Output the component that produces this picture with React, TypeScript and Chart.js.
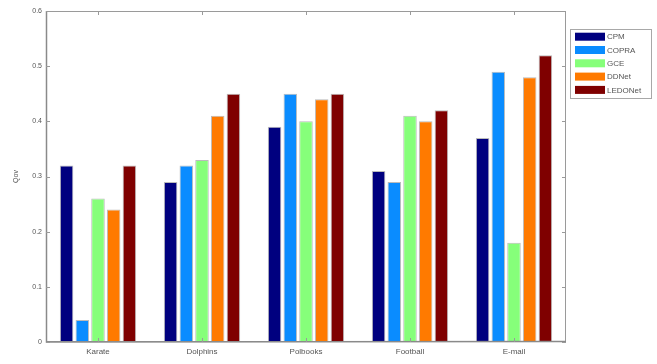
import React, { useEffect, useRef } from "react";
import { Chart, registerables } from "chart.js";

Chart.register(...registerables);

const categories = ["Karate", "Dolphins", "Polbooks", "Football", "E-mail"];
const seriesNames = ["CPM", "COPRA", "GCE", "DDNet", "LEDONet"];
const seriesColors = ["#00007f", "#0a8cff", "#86ff7a", "#ff7a00", "#7f0000"];
const cpm = [0.32, 0.29, 0.39, 0.31, 0.37];
const copra = [0.04, 0.32, 0.45, 0.29, 0.49];
const gce = [0.26, 0.33, 0.4, 0.41, 0.18];
const ddnet = [0.24, 0.41, 0.44, 0.4, 0.48];
const ledonet = [0.32, 0.45, 0.45, 0.42, 0.52];
const yTicks = [0, 0.1, 0.2, 0.3, 0.4, 0.5, 0.6];

const FONT = "'Liberation Sans', Arial, sans-serif";

// Box around the plot with inward ticks, plus a boxed legend at the right.
const framePlugin = {
  id: "frame",
  afterDatasetsDraw(chart: any) {
    const { ctx, chartArea: a, scales } = chart;
    const x = scales.x;
    const y = scales.y;
    ctx.save();
    ctx.strokeStyle = "#9a9a9a";
    ctx.lineWidth = 1;
    ctx.beginPath();
    ctx.rect(a.left + 0.5, a.top + 0.5, a.right - a.left - 1, a.bottom - a.top - 1);
    ctx.stroke();
    ctx.strokeStyle = "#8a8a8a";
    ctx.lineWidth = 1.5;
    ctx.beginPath();
    ctx.moveTo(a.left + 0.5, a.top);
    ctx.lineTo(a.left + 0.5, a.bottom);
    ctx.lineTo(a.right, a.bottom - 0.5);
    ctx.stroke();
    ctx.lineWidth = 1;
    ctx.strokeStyle = "#9a9a9a";
    ctx.beginPath();
    yTicks.forEach((v) => {
      const py = Math.round(y.getPixelForValue(v)) + 0.5;
      ctx.moveTo(a.left, py);
      ctx.lineTo(a.left + 4, py);
      ctx.moveTo(a.right, py);
      ctx.lineTo(a.right - 4, py);
    });
    categories.forEach((_, i) => {
      const px = Math.round(x.getPixelForValue(i)) + 0.5;
      ctx.moveTo(px, a.bottom);
      ctx.lineTo(px, a.bottom - 4);
      ctx.moveTo(px, a.top);
      ctx.lineTo(px, a.top + 4);
    });
    ctx.stroke();

    // legend
    const lx = 570;
    const ly = 29;
    const lw = 81;
    const lh = 69;
    ctx.fillStyle = "#ffffff";
    ctx.fillRect(lx, ly, lw, lh);
    ctx.strokeStyle = "#a8a8a8";
    ctx.strokeRect(lx + 0.5, ly + 0.5, lw, lh);
    ctx.font = `8px ${FONT}`;
    ctx.textBaseline = "middle";
    ctx.textAlign = "left";
    seriesNames.forEach((name, i) => {
      const cy = 36.7 + i * 13.3;
      ctx.fillStyle = seriesColors[i];
      ctx.fillRect(575, cy - 4, 30, 8);
      ctx.fillStyle = "#555555";
      ctx.fillText(name, 607, cy + 0.5);
    });
    ctx.restore();
  },
};

export default function App() {
  const canvasRef = useRef<HTMLCanvasElement | null>(null);

  useEffect(() => {
    if (!canvasRef.current) return;
    const values = [cpm, copra, gce, ddnet, ledonet];
    const chart = new Chart(canvasRef.current, {
      type: "bar",
      data: {
        labels: categories,
        datasets: seriesNames.map((name, i) => ({
          label: name,
          data: values[i],
          backgroundColor: seriesColors[i],
          borderColor: "rgba(60,60,60,0.35)",
          borderWidth: 1,
          categoryPercentage: 0.755,
          barPercentage: 0.86,
        })),
      },
      options: {
        animation: false,
        responsive: false,
        maintainAspectRatio: false,
        layout: { padding: { left: 0, top: 11, right: 91, bottom: 0 } },
        plugins: {
          legend: { display: false },
          tooltip: { enabled: false },
        },
        scales: {
          x: {
            grid: { display: false, drawTicks: false },
            border: { display: false },
            ticks: {
              color: "#555555",
              font: { family: FONT, size: 8 },
              padding: 5,
              maxRotation: 0,
            },
            afterFit: (s: any) => {
              s.height = 22;
            },
          },
          y: {
            min: 0,
            max: 0.6,
            grid: { display: false, drawTicks: false },
            border: { display: false },
            afterBuildTicks: (s: any) => {
              s.ticks = yTicks.map((v) => ({ value: v }));
            },
            ticks: {
              color: "#555555",
              font: { family: FONT, size: 7 },
              padding: 4,
              callback: (v: any) => String(Math.round(Number(v) * 10) / 10),
            },
            title: {
              display: true,
              text: "Qov",
              color: "#555555",
              font: { family: FONT, size: 7 },
              padding: { top: 12, bottom: 0 },
            },
            afterFit: (s: any) => {
              s.width = 46;
            },
          },
        },
      },
      plugins: [framePlugin],
    });
    return () => chart.destroy();
  }, []);

  return (
    <div style={{ position: "fixed", left: 0, top: 0, width: 657, height: 364, background: "#fff" }}>
      <canvas ref={canvasRef} width={657} height={364} />
    </div>
  );
}
